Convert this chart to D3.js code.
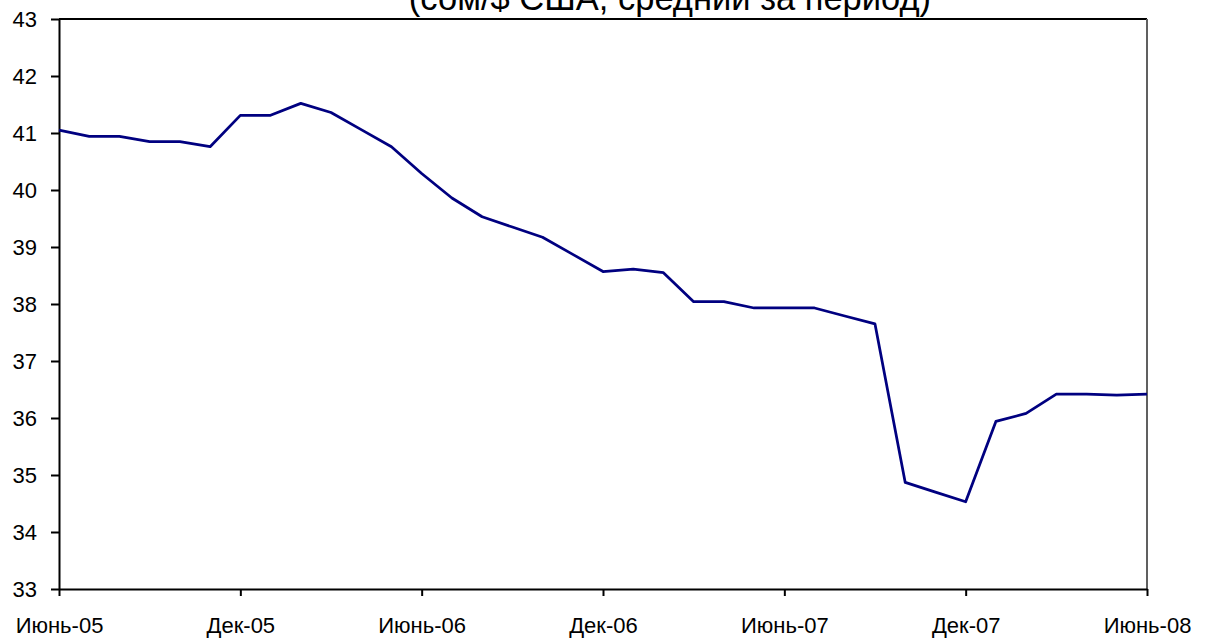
<!DOCTYPE html>
<html>
<head>
<meta charset="utf-8">
<script src="https://cdn.jsdelivr.net/npm/d3@7"></script>
<style>
	body { margin:0; background:#fff; }
	svg text { font-family:Arial, "Liberation Sans", sans-serif; fill:#000; }
</style>
</head>
<body>
<svg id="chart_svg" width="1215" height="639"></svg>
<script>

// months Июнь-05 .. Июнь-08, one value per month (сом/$ США)
var month_idx=d3.range(0,37);
var som_usd=[41.05,40.94,40.94,40.85,40.85,40.76,41.31,41.31,41.52,41.36,41.06,40.76,
	40.29,39.86,39.53,39.35,39.17,38.87,38.57,38.61,38.55,38.04,38.04,37.93,
	37.93,37.93,37.79,37.65,34.87,34.70,34.53,35.94,36.08,36.42,36.42,36.40,36.42];
var x_tick_pos=[0,6,12,18,24,30,36];
var x_tick_labels=["Июнь-05","Дек-05","Июнь-06","Дек-06","Июнь-07","Дек-07","Июнь-08"];
var y_ticks=[33,34,35,36,37,38,39,40,41,42,43];
var subtitle="(сом/$ США, средний за период)";

window.onload = function() {
var svg=d3.select("#chart_svg");
var left=59, right=1147, top=19, bottom=589;

var x=d3.scaleLinear().domain([0,36]).range([left,right]);
var y=d3.scaleLinear().domain([33,43]).range([bottom,top]);

// subtitle is cut by the top edge, same as in the source picture
svg.append("text")
	.attr("x",670)
	.attr("y",10)
	.attr("text-anchor","middle")
	.style("font-size","34.5px")
	.text(subtitle);

// frame top + right
svg.append("line")
	.attr("x1",left).attr("x2",right)
	.attr("y1",top).attr("y2",top)
	.attr("stroke","#000").attr("stroke-width",2);
svg.append("line")
	.attr("x1",right).attr("x2",right)
	.attr("y1",top).attr("y2",bottom)
	.attr("stroke","#606060").attr("stroke-width",2);

var x_axis=d3.axisBottom(x)
	.tickValues(x_tick_pos)
	.tickFormat(function(d,i) { return x_tick_labels[i]; })
	.tickSizeInner(7).tickSizeOuter(0).tickPadding(21);
var gx=svg.append("g").attr("transform","translate(0,"+bottom+")").call(x_axis);

var y_axis=d3.axisLeft(y)
	.tickValues(y_ticks)
	.tickFormat(d3.format("d"))
	.tickSizeInner(8).tickSizeOuter(0).tickPadding(14);
var gy=svg.append("g").attr("transform","translate("+left+",0)").call(y_axis);

[gx,gy].forEach(function(g)
	{
	g.select(".domain").attr("stroke","#000").attr("stroke-width",2);
	g.selectAll(".tick line").attr("stroke","#000").attr("stroke-width",2);
	g.selectAll(".tick text").style("font-size","22px").attr("font-family",null);
	});

var line=d3.line()
	.x(function(d,i) { return x(month_idx[i]); })
	.y(function(d) { return y(d); });

svg.append("path")
	.datum(som_usd)
	.attr("d",line)
	.attr("fill","none")
	.attr("stroke","#000080")
	.attr("stroke-width",2.75)
	.attr("stroke-linejoin","round");
};

</script>
</body>
</html>
